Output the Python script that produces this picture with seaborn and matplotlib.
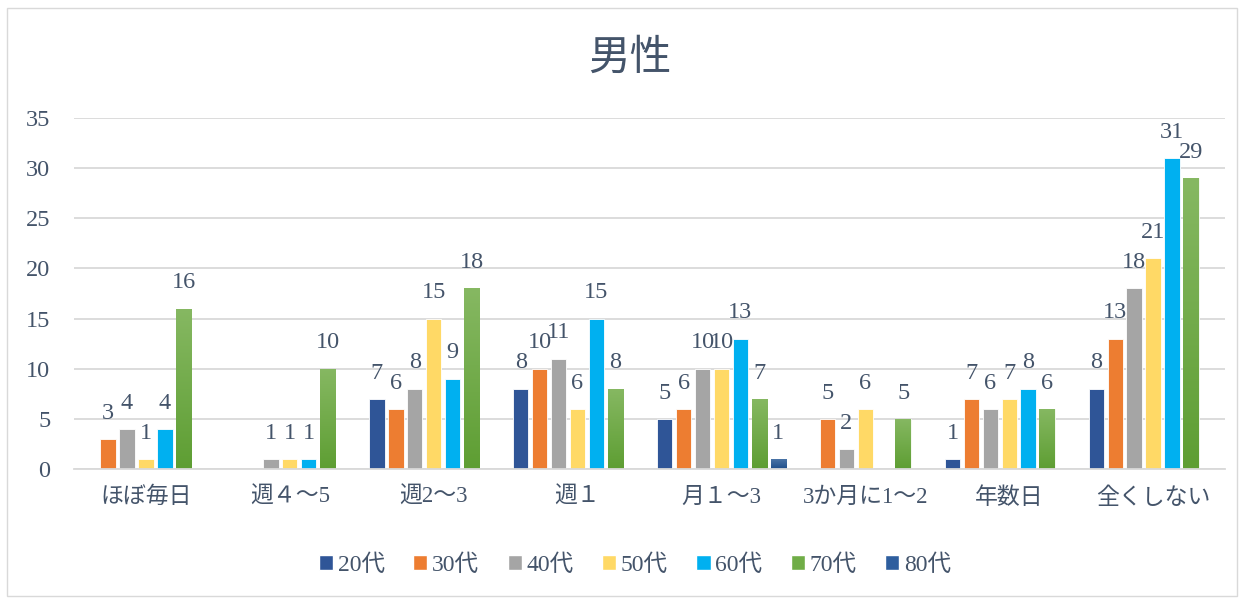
import numpy as np
import pandas as pd
import matplotlib.pyplot as plt
import seaborn as sns
from matplotlib.patches import Patch, Rectangle
from matplotlib.colors import LinearSegmentedColormap

nan = np.nan
categories = ["ほぼ毎日", "週４～5", "週2～3", "週１", "月１～3", "3か月に1～2", "年数日", "全くしない"]
ages = ["20代", "30代", "40代", "50代", "60代", "70代", "80代"]
v20 = [nan, nan, 7, 8, 5, nan, 1, 8]
v30 = [3, nan, 6, 10, 6, 5, 7, 13]
v40 = [4, 1, 8, 11, 10, 2, 6, 18]
v50 = [1, 1, 15, 6, 10, 6, 7, 21]
v60 = [4, 1, 9, 15, 13, nan, 8, 31]
v70 = [16, 10, 18, 8, 7, 5, 6, 29]
v80 = [nan, nan, nan, nan, 1, nan, nan, nan]
colors = ["#2F5597", "#ED7D31", "#A5A5A5", "#FFD966", "#00B0F0", "#70AD47", "#2E5E9E"]

rows = []
for age, vals in zip(ages, [v20, v30, v40, v50, v60, v70, v80]):
    for cat, v in zip(categories, vals):
        rows.append((cat, age, v))
df = pd.DataFrame(rows, columns=["cat", "age", "value"]).dropna()

sns.set_style("white")
plt.rcParams['font.family'] = ['Liberation Serif', 'Noto Sans CJK JP']
text_col = "#44546A"

fig = plt.figure(figsize=(12.45, 5.98), dpi=100)
ax = fig.add_axes([74/1245, 1-469/598, 1151/1245, 351/598])
sns.barplot(data=df, x="cat", y="value", hue="age", order=categories, hue_order=ages,
            palette=colors, saturation=1, width=0.92, gap=0.19, edgecolor="white",
            linewidth=0.6, legend=False, ax=ax)

# gradient fill for 70代 and 80代
grads = {5: ("#5E9E33", "#86B862"), 6: ("#1F4E8A", "#4F78AA")}
g = np.linspace(0, 1, 100).reshape(-1, 1)
for idx, (c0, c1) in grads.items():
    cmap = LinearSegmentedColormap.from_list("g%d" % idx, [c0, c1])
    for bar in ax.containers[idx]:
        x0, y0 = bar.get_xy()
        w, h = bar.get_width(), bar.get_height()
        im = ax.imshow(g, extent=[x0, x0 + w, y0, y0 + h], origin="lower",
                       aspect="auto", cmap=cmap, zorder=bar.get_zorder() + 0.1)
        im.set_clip_path(bar)

for c in ax.containers:
    ax.bar_label(c, fmt="%d", padding=11, fontsize=17.5, color=text_col)

ax.set_xlim(-0.5, 7.5)
ax.set_ylim(0, 35)
ax.set_yticks(range(0, 36, 5))
ax.set_xlabel("")
ax.set_ylabel("")
ax.grid(axis="y", color="#D9D9D9", linewidth=1.3)
ax.set_axisbelow(True)
for s in ["left", "right", "top"]:
    ax.spines[s].set_visible(False)
ax.spines["bottom"].set_color("#D9D9D9")
ax.spines["bottom"].set_linewidth(1.3)
ax.tick_params(axis="y", length=0, pad=17, labelsize=17.5, labelcolor=text_col)
ax.tick_params(axis="x", length=0, pad=13, labelsize=16.5, labelcolor=text_col)

fig.text(0.506, 1-58/598, "男性", ha="center", va="center", fontsize=30,
         color=text_col, family=["Noto Sans CJK JP"])

handles = [Patch(facecolor=c) for c in colors]
fig.legend(handles, ages, loc="center", bbox_to_anchor=(0.51, 1-565/598), ncol=7,
           frameon=False, handlelength=0.6, handleheight=0.6, handletextpad=0.2,
           columnspacing=1.2, fontsize=17, labelcolor=text_col)

fig.patches.append(Rectangle((7/1245, 2/598), 1230/1245, 588/598, transform=fig.transFigure,
                             fill=False, edgecolor="#D9D9D9", linewidth=1))

fig.savefig("out.png", dpi=100)
